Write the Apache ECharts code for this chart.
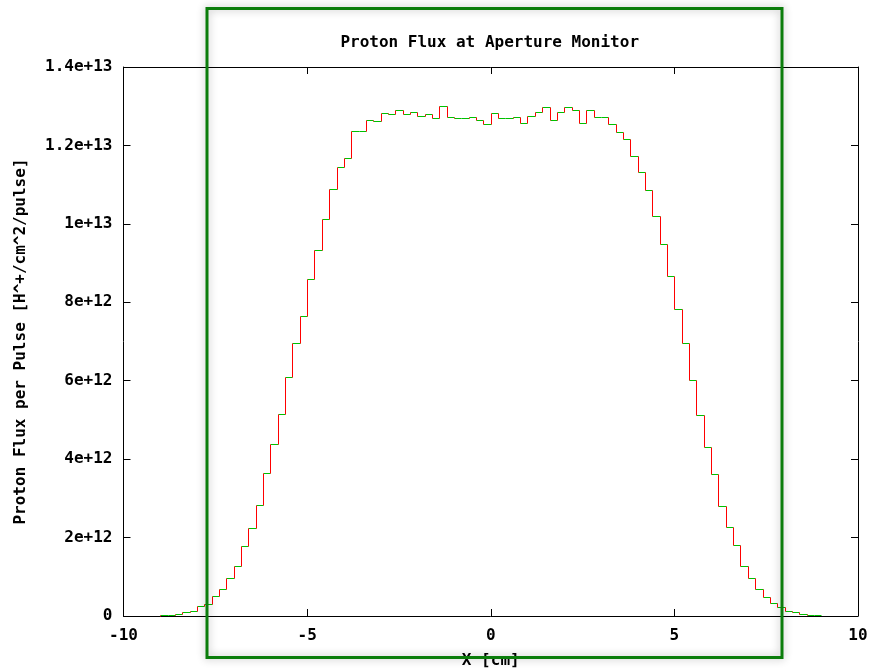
<!DOCTYPE html>
<html><head><meta charset="utf-8">
<script src="https://cdn.jsdelivr.net/npm/echarts@6/dist/echarts.min.js"></script>
<style>html,body{margin:0;padding:0;background:#fff}#c{width:872px;height:669px}</style>
</head><body><div id="c"></div>
<script>
// Histogram bins: left edge of first bin and bin width (cm)
const binStart = -9.0;
const binWidth = 0.2;
// Flux per bin, in units of 1e12 H^+/cm^2/pulse
const fluxE12 = [
  0.02, 0.02, 0.06, 0.094, 0.135, 0.25, 0.30, 0.52, 0.70, 0.98,
  1.28, 1.78, 2.24, 2.84, 3.65, 4.39, 5.15, 6.10, 6.96, 7.66,
  8.60, 9.34, 10.12, 10.88, 11.45, 11.67, 12.36, 12.36, 12.64, 12.62,
  12.82, 12.80, 12.90, 12.80, 12.86, 12.76, 12.80, 12.69, 13.01, 12.72,
  12.69, 12.69, 12.72, 12.65, 12.54, 12.82, 12.69, 12.69, 12.72, 12.58,
  12.76, 12.86, 12.98, 12.65, 12.86, 12.97, 12.90, 12.58, 12.90, 12.72,
  12.72, 12.54, 12.34, 12.16, 11.73, 11.32, 10.86, 10.19, 9.49, 8.68,
  7.83, 6.96, 6.01, 5.12, 4.32, 3.61, 2.80, 2.28, 1.82, 1.28,
  0.98, 0.70, 0.48, 0.34, 0.24, 0.135, 0.094, 0.05, 0.02, 0.02
];
const xTickLabels = ['-10', '-5', '0', '5', '10'];
const yTickLabels = ['0', '2e+12', '4e+12', '6e+12', '8e+12', '1e+13', '1.2e+13', '1.4e+13'];
const titleText = 'Proton Flux at Aperture Monitor';
const xName = 'X [cm]';
const yName = 'Proton Flux per Pulse [H^+/cm^2/pulse]';

const FONT = 'DejaVu Sans Mono';
const FS = 16;
const data = fluxE12.map((v, i) => [binStart + i * binWidth, binStart + (i + 1) * binWidth, v, i === 0 ? 0 : fluxE12[i - 1]]);

const chart = echarts.init(document.getElementById('c'), null, {renderer: 'canvas'});
const crisp = v => Math.round(v) + 0.5;
const axisCommon = {
  axisLine: {show: true, onZero: false, lineStyle: {color: '#000', width: 1}},
  axisTick: {show: true, inside: true, length: 7, lineStyle: {color: '#000'}},
  splitLine: {show: false}
};
const txt = {fontFamily: FONT, fontSize: FS, fontWeight: 'bold', color: '#000'};
chart.setOption({
  animation: false,
  backgroundColor: '#fff',
  title: {
    text: titleText, left: 484.7, top: 30, textAlign: 'center',
    textStyle: txt
  },
  grid: {left: 123.5, right: 14, top: 67, bottom: 53, containLabel: false, outerBoundsMode: 'none'},
  xAxis: [
    Object.assign({
      type: 'value', min: -10, max: 10, interval: 5, position: 'bottom',
      name: xName, nameLocation: 'middle', nameGap: 37,
      nameTextStyle: txt,
      axisLabel: Object.assign({margin: 12,
        formatter: v => xTickLabels[Math.round((v + 10) / 5)]}, txt)
    }, axisCommon),
    Object.assign({
      type: 'value', min: -10, max: 10, interval: 5, position: 'top',
      axisLabel: {show: false}
    }, axisCommon)
  ],
  yAxis: [
    Object.assign({
      type: 'value', min: 0, max: 14, interval: 2, position: 'left',
      name: yName, nameLocation: 'middle', nameGap: 95, nameRotate: 90,
      nameTextStyle: txt,
      axisLabel: Object.assign({margin: 11,
        formatter: v => yTickLabels[Math.round(v / 2)]}, txt)
    }, axisCommon),
    Object.assign({
      type: 'value', min: 0, max: 14, interval: 2, position: 'right',
      axisLabel: {show: false}
    }, axisCommon)
  ],
  series: [{
    type: 'custom',
    xAxisIndex: 0, yAxisIndex: 0,
    data: data,
    clip: false,
    renderItem: function (params, api) {
      const x0 = api.value(0), x1 = api.value(1), y = api.value(2), yPrev = api.value(3);
      const a = api.coord([x0, y]);
      const b = api.coord([x1, y]);
      const p = api.coord([x0, yPrev]);
      return {
        type: 'group',
        children: [
          {type: 'line', shape: {x1: crisp(a[0]), y1: crisp(a[1]), x2: crisp(b[0]), y2: crisp(b[1])},
            style: {stroke: '#00c000', lineWidth: 1}},
          {type: 'line', shape: {x1: crisp(p[0]), y1: crisp(p[1]), x2: crisp(a[0]), y2: crisp(a[1])},
            style: {stroke: '#ff0000', lineWidth: 1}}
        ]
      };
    }
  }],
  graphic: [{
    type: 'rect', z: 100,
    shape: {x: 207, y: 8.5, width: 575, height: 649},
    style: {fill: 'none', stroke: '#0b7d0b', lineWidth: 3,
      shadowBlur: 8, shadowColor: 'rgba(0,0,0,0.3)'}
  }]
});
</script>
</body></html>
